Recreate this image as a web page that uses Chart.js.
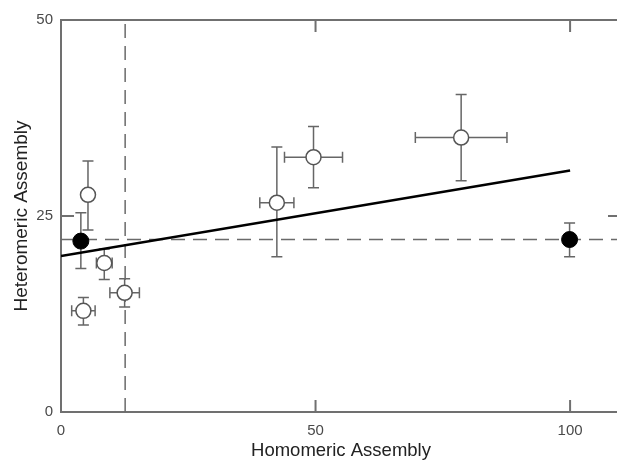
<!DOCTYPE html>
<html>
<head>
<meta charset="utf-8">
<script src="https://cdn.jsdelivr.net/npm/chart.js@4/dist/chart.umd.min.js"></script>
<style>
  html, body { margin: 0; padding: 0; background: #fff; overflow: hidden; width: 617px; height: 462px; }
  canvas { display: block; }
</style>
</head>
<body>
<canvas id="chart" width="630" height="462"></canvas>
<script>
"use strict";

// open circles
var openX   = [5.3, 8.5, 12.5, 4.4, 42.4, 49.6, 78.6];
var openY   = [27.7, 19.0, 15.2, 12.9, 26.7, 32.5, 35.0];
var openXErr = [0, 1.55, 2.9, 2.3, 3.35, 5.7, 9.0];
var openYLo = [23.2, 16.9, 13.4, 11.1, 19.8, 28.6, 29.5];
var openYHi = [32.0, 20.8, 17.0, 14.6, 33.8, 36.4, 40.5];

// filled circles
var fillX   = [3.9, 99.9];
var fillY   = [21.8, 22.0];
var fillXErr = [0, 0];
var fillYLo = [18.3, 19.8];
var fillYHi = [25.4, 24.1];

// fitted line end points, reference lines
var fitX = [0, 100];
var fitY = [19.9, 30.8];
var refY = 22;
var refX = 12.6;

var xTicks = [0, 50, 100];
var yTicks = [0, 25, 50];
var xMax = 110, yMax = 50;

var axisGrey = "#707070", textGrey = "#4a4a4a";

function pts(xs, ys) {
    return xs.map(function(x, i) { return { x: x, y: ys[i] }; });
}

var errorBars = {
    id: "errorBars",
    beforeDatasetsDraw: function(chart) {
        var c = chart.ctx, xs = chart.scales.x, ys = chart.scales.y;
        function bars(X, Y, xe, lo, hi) {
            X.forEach(function(x, i) {
                var px = xs.getPixelForValue(x), py = ys.getPixelForValue(Y[i]);
                var t = ys.getPixelForValue(hi[i]), b = ys.getPixelForValue(lo[i]);
                c.beginPath();
                c.moveTo(px, t); c.lineTo(px, b);
                c.moveTo(px - 5.5, t); c.lineTo(px + 5.5, t);
                c.moveTo(px - 5.5, b); c.lineTo(px + 5.5, b);
                if (xe[i] > 0) {
                    var l = xs.getPixelForValue(x - xe[i]), r = xs.getPixelForValue(x + xe[i]);
                    c.moveTo(l, py); c.lineTo(r, py);
                    c.moveTo(l, py - 5.5); c.lineTo(l, py + 5.5);
                    c.moveTo(r, py - 5.5); c.lineTo(r, py + 5.5);
                }
                c.stroke();
            });
        }
        c.save();
        c.strokeStyle = "#666";
        c.lineWidth = 1.5;
        bars(openX, openY, openXErr, openYLo, openYHi);
        bars(fillX, fillY, fillXErr, fillYLo, fillYHi);
        c.restore();
    },
    afterDraw: function(chart) {
        var c = chart.ctx, a = chart.chartArea, xs = chart.scales.x, ys = chart.scales.y;
        c.save();
        c.strokeStyle = axisGrey;
        c.lineWidth = 2;
        c.beginPath();
        c.moveTo(a.left, a.top); c.lineTo(a.right, a.top);
        c.moveTo(a.right, a.top); c.lineTo(a.right, a.bottom);
        xTicks.forEach(function(v) {
            var p = xs.getPixelForValue(v);
            c.moveTo(p, a.bottom); c.lineTo(p, a.bottom - 12);
            c.moveTo(p, a.top); c.lineTo(p, a.top + 12);
        });
        yTicks.forEach(function(v) {
            var p = ys.getPixelForValue(v);
            c.moveTo(a.left, p); c.lineTo(a.left + 13, p);
            c.moveTo(a.right, p); c.lineTo(a.right - 13, p);
        });
        c.stroke();
        c.restore();
    }
};

new Chart(document.getElementById("chart"), {
    type: "scatter",
    plugins: [errorBars],
    data: {
        datasets: [{
            label: "filled",
            data: pts(fillX, fillY),
            order: 0,
            pointRadius: 8,
            pointBackgroundColor: "#000",
            pointBorderColor: "#000",
            pointBorderWidth: 1
        }, {
            label: "open",
            data: pts(openX, openY),
            order: 1,
            pointRadius: 7.5,
            pointBackgroundColor: "#fff",
            pointBorderColor: "#555",
            pointBorderWidth: 1.5
        }, {
            type: "line",
            label: "fit",
            data: pts(fitX, fitY),
            order: 2,
            borderColor: "#000",
            borderWidth: 2.5,
            pointRadius: 0,
            tension: 0
        }, {
            type: "line",
            label: "refY",
            data: pts([0, xMax], [refY, refY]),
            order: 3,
            borderColor: "#6a6a6a",
            borderWidth: 1.5,
            borderDash: [14, 8],
            pointRadius: 0
        }, {
            type: "line",
            label: "refX",
            data: pts([refX, refX], [0, yMax]),
            order: 4,
            borderColor: "#6a6a6a",
            borderWidth: 1.5,
            borderDash: [14, 8],
            pointRadius: 0
        }]
    },
    options: {
        responsive: false,
        animation: false,
        layout: { padding: { top: 20, right: 2, left: 0, bottom: 0 } },
        plugins: { legend: { display: false }, tooltip: { enabled: false } },
        scales: {
            x: {
                type: "linear",
                min: 0,
                max: xMax,
                afterFit: function(s) { s.height = 50; s.paddingLeft = 0; s.paddingRight = 0; },
                afterBuildTicks: function(s) { s.ticks = xTicks.map(function(v) { return { value: v }; }); },
                grid: { display: false, drawTicks: false },
                border: { display: true, color: axisGrey, width: 2 },
                ticks: { color: textGrey, font: { family: "Liberation Sans", size: 15 }, padding: 10, maxRotation: 0 },
                title: { display: true, text: "Homomeric Assembly", color: "#222", font: { family: "Liberation Sans", size: 18.5 }, padding: 0 }
            },
            y: {
                type: "linear",
                min: 0,
                max: yMax,
                afterFit: function(s) { s.width = 61; s.paddingTop = 0; s.paddingBottom = 0; },
                afterBuildTicks: function(s) { s.ticks = yTicks.map(function(v) { return { value: v }; }); },
                grid: { display: false, drawTicks: false },
                border: { display: true, color: axisGrey, width: 2 },
                ticks: { color: textGrey, font: { family: "Liberation Sans", size: 15 }, padding: 8 },
                title: { display: true, text: "Heteromeric Assembly", color: "#222", font: { family: "Liberation Sans", size: 19 }, padding: 10 }
            }
        }
    }
});
</script>
</body>
</html>
